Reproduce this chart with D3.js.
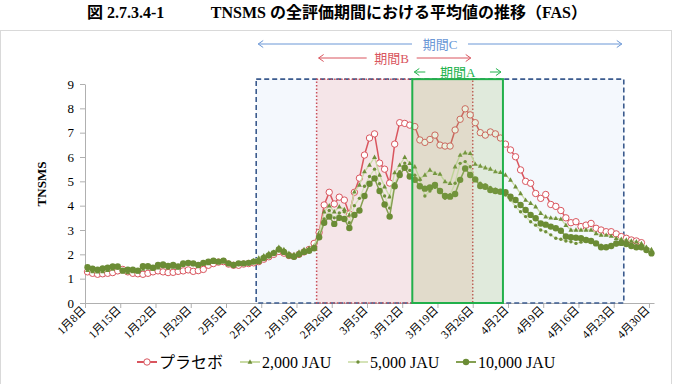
<!DOCTYPE html>
<html><head><meta charset="utf-8">
<script src="https://cdn.jsdelivr.net/npm/d3@7"></script>
<style>
html,body{margin:0;padding:0;background:#fff;}
svg text{font-family:"Liberation Serif","Times New Roman","Noto Sans CJK JP",serif;}
</style></head>
<body><svg id="c" width="674" height="384"></svg>
<script>
// ---- data ----
const startDate = "2011-01-08";
const tickLabels = ["1月8日","1月15日","1月22日","1月29日","2月5日","2月12日","2月19日","2月26日","3月5日","3月12日","3月19日","3月26日","4月2日","4月9日","4月16日","4月23日","4月30日"];
const yTicks = [0,1,2,3,4,5,6,7,8,9];
const seriesNames = ["プラセボ","2,000 JAU","5,000 JAU","10,000 JAU"];
const placebo = [1.28,1.22,1.18,1.2,1.22,1.25,1.32,1.38,1.28,1.22,
1.2,1.18,1.22,1.28,1.32,1.28,1.25,1.26,1.3,1.32,
1.36,1.3,1.33,1.38,1.55,1.62,1.68,1.7,1.6,1.55,
1.55,1.6,1.62,1.65,1.7,1.8,1.9,2.0,2.12,2.05,
1.95,1.92,2.0,2.1,2.2,2.45,2.9,4.03,4.55,4.07,
4.35,4.23,3.66,4.55,5.13,6.08,6.78,6.95,5.75,5.5,
4.93,6.53,7.41,7.38,7.31,7.25,6.7,6.6,6.72,6.9,
6.49,6.45,6.45,7.11,7.55,7.98,7.73,7.41,7.0,6.9,
7.03,6.95,6.78,6.53,6.29,6.01,5.47,5.0,4.92,4.5,
4.3,4.46,4.05,3.97,3.8,3.5,3.3,3.34,3.14,3.2,
3.27,3.07,3.0,2.93,2.93,2.84,2.73,2.66,2.59,2.55,2.48];
const jau2000 = [1.35,1.3,1.28,1.3,1.35,1.4,1.45,1.3,1.25,1.3,
1.28,1.4,1.45,1.4,1.45,1.5,1.45,1.48,1.45,1.55,
1.6,1.58,1.52,1.6,1.62,1.68,1.7,1.72,1.6,1.55,
1.6,1.62,1.65,1.75,1.85,1.95,2.05,2.1,2.3,2.2,
2.05,2.0,2.1,2.2,2.25,2.35,2.9,3.75,4.0,3.75,
3.96,3.85,3.62,4.57,4.85,5.4,5.67,5.99,5.26,4.78,
4.37,5.36,5.67,5.99,5.74,5.6,5.1,5.26,5.47,5.33,
5.3,4.99,4.92,5.6,6.08,6.18,6.15,5.71,5.63,5.56,
5.51,5.4,5.37,5.26,5.06,4.78,4.5,4.23,4.1,3.96,
3.69,3.55,3.5,3.48,3.45,3.2,3.0,3.0,3.0,3.0,
3.0,2.86,2.8,2.79,2.75,2.66,2.62,2.59,2.55,2.52,2.45,2.3,2.2];
const jau5000 = [1.4,1.35,1.3,1.35,1.4,1.45,1.45,1.35,1.3,1.33,
1.3,1.45,1.48,1.42,1.5,1.52,1.48,1.5,1.48,1.58,
1.62,1.6,1.55,1.62,1.66,1.7,1.68,1.72,1.58,1.5,
1.58,1.6,1.62,1.72,1.78,1.9,2.0,2.08,2.25,2.15,
2.0,1.95,2.05,2.15,2.2,2.3,2.8,3.45,3.8,3.5,
3.7,3.75,3.3,4.0,4.3,4.8,5.2,5.5,4.9,4.4,
3.9,4.9,5.4,5.75,5.45,5.25,5.06,4.4,4.6,4.75,
4.55,4.3,4.45,4.92,5.74,5.81,5.6,5.06,4.92,4.85,
4.75,4.68,4.62,4.44,4.23,3.96,3.75,3.55,3.34,3.2,
3.0,2.93,2.8,2.66,2.62,2.55,2.52,2.45,2.5,2.59,
2.52,2.45,2.38,2.29,2.32,2.38,2.45,2.4,2.35,2.32,2.29,2.2,2.11];
const jau10000 = [1.47,1.41,1.37,1.42,1.45,1.5,1.5,1.33,1.37,1.37,
1.33,1.51,1.51,1.45,1.56,1.58,1.52,1.56,1.5,1.63,
1.65,1.63,1.56,1.65,1.7,1.74,1.7,1.74,1.63,1.56,
1.63,1.63,1.65,1.7,1.72,1.85,1.95,2.05,2.2,2.1,
1.95,1.9,2.0,2.1,2.15,2.25,2.7,3.3,3.55,3.25,
3.5,3.45,3.08,3.62,3.8,4.4,4.9,5.12,4.6,4.05,
3.55,4.8,5.26,5.56,5.2,5.06,4.8,4.7,4.75,4.85,
4.6,4.4,4.37,4.48,5.06,5.53,5.26,5.08,4.81,4.78,
4.64,4.6,4.57,4.55,4.37,4.23,4.03,3.82,3.62,3.48,
3.27,3.22,3.14,3.07,2.97,2.73,2.7,2.68,2.66,2.59,
2.55,2.45,2.29,2.29,2.34,2.45,2.47,2.42,2.34,2.29,2.29,2.18,2.04];
const periodNames = ["期間C","期間B","期間A"];
const periodStart = ["2011-02-11","2011-02-23","2011-03-14"];
const periodEnd   = ["2011-04-25","2011-03-26","2011-04-01"]; // exclusive

// ---- layout ----
const svg = d3.select("#c");
const parse = d3.utcParse("%Y-%m-%d");
const d0 = parse(startDate);
const nDays = 113;
const x = d3.scaleUtc().domain([d0, d3.utcDay.offset(d0, nDays)]).range([85, 654]);
const y = d3.scaleLinear().domain([0, 9]).range([303, 84]);
const dayCenter = i => x(d3.utcDay.offset(d0, i)) + (x(d3.utcDay.offset(d0, 1)) - x(d0)) / 2;

// frame
svg.append("rect").attr("x",0.5).attr("y",30.5).attr("width",671).attr("height",360)
  .attr("fill","none").attr("stroke","#d9d9d9");

// title
svg.append("text").attr("x",87).attr("y",18).attr("font-size",16).attr("font-weight","bold")
  .attr("fill","#000").text("図 2.7.3.4-1");
svg.append("text").attr("x",587).attr("y",18).attr("font-size",16).attr("font-weight","bold")
  .attr("text-anchor","end").attr("fill","#000").text("TNSMS の全評価期間における平均値の推移（FAS）");

const pr = periodNames.map((n,i)=>({name:n, x0:x(parse(periodStart[i])), x1:x(parse(periodEnd[i]))}));
const topY = y(9.2), botY = y(0);

// background period boxes (C, B)
svg.append("rect").attr("x",pr[0].x0).attr("y",topY).attr("width",pr[0].x1-pr[0].x0).attr("height",botY-topY)
  .attr("fill","#f4f8fd");
svg.append("rect").attr("x",pr[1].x0).attr("y",topY).attr("width",pr[1].x1-pr[1].x0).attr("height",botY-topY)
  .attr("fill","#f5e5e8");

// axes
const gx = svg.append("g").attr("transform",`translate(0,${botY})`)
  .call(d3.axisBottom(x).tickValues(tickLabels.map((t,i)=>d3.utcDay.offset(d0,i*7))).tickSize(5).tickSizeOuter(0)
  .tickFormat((d,i)=>tickLabels[i]));
gx.select(".domain").attr("stroke","#b0b0b0");
gx.selectAll(".tick line").attr("stroke","#b0b0b0");
gx.selectAll(".tick text").attr("font-size",11.5).attr("fill","#000")
  .attr("text-anchor","end").attr("transform","translate(-2,5) rotate(-45)").attr("dy","0.35em").attr("y",0).attr("x",0);

const gy = svg.append("g").attr("transform","translate(85,0)")
  .call(d3.axisLeft(y).tickValues(yTicks).tickSize(5).tickSizeOuter(0).tickPadding(6));
gy.select(".domain").attr("stroke","#b0b0b0");
gy.selectAll(".tick line").attr("stroke","#b0b0b0");
gy.selectAll(".tick text").attr("font-size",13).attr("fill","#000");

svg.append("text").attr("transform","translate(46,184) rotate(-90)").attr("text-anchor","middle")
  .attr("font-size",13).attr("font-weight","bold").text("TNSMS");

// borders of C and B
svg.append("rect").attr("x",pr[0].x0).attr("y",topY).attr("width",pr[0].x1-pr[0].x0).attr("height",botY-topY)
  .attr("fill","none").attr("stroke","#3b5b8e").attr("stroke-width",1.6).attr("stroke-dasharray","5,3");
svg.append("rect").attr("x",pr[1].x0).attr("y",topY).attr("width",pr[1].x1-pr[1].x0).attr("height",botY-topY)
  .attr("fill","none").attr("stroke","#c8505a").attr("stroke-width",1.5).attr("stroke-dasharray","1.5,2");

// series
const series = [
  {name:seriesNames[0], v:placebo, line:"#d9555e", lw:1.5, mk:"circle", r:3.2, fill:"#fff", stroke:"#d9555e"},
  {name:seriesNames[1], v:jau2000, line:"#c9dba5", lw:1.4, mk:"tri", r:2.2, fill:"#6f8f3a", stroke:"none"},
  {name:seriesNames[2], v:jau5000, line:"#d5e3b8", lw:1.4, mk:"dot", r:1.7, fill:"#6f8f3a", stroke:"none"},
  {name:seriesNames[3], v:jau10000, line:"#85a052", lw:1.5, mk:"circle", r:3.2, fill:"#6b8c35", stroke:"none"}
];
const line = d3.line().x((d,i)=>dayCenter(i)).y(d=>y(d));
const triPath = r => `M0,${-r*1.2}L${r*1.1},${r*0.8}L${-r*1.1},${r*0.8}Z`;
function marker(g, s, cx, cy){
  if(s.mk==="tri") g.append("path").attr("d",triPath(s.r)).attr("transform",`translate(${cx},${cy})`).attr("fill",s.fill);
  else g.append("circle").attr("cx",cx).attr("cy",cy).attr("r",s.r).attr("fill",s.fill)
        .attr("stroke",s.stroke).attr("stroke-width",s.stroke==="none"?0:1);
}
series.forEach(s=>{
  const g = svg.append("g");
  g.append("path").datum(s.v).attr("d",line).attr("fill","none").attr("stroke",s.line).attr("stroke-width",s.lw);
  s.v.forEach((d,i)=>marker(g,s,dayCenter(i),y(d)));
});

// period A overlay
svg.append("rect").attr("x",pr[2].x0).attr("y",topY).attr("width",pr[2].x1-pr[2].x0).attr("height",botY-topY)
  .attr("fill","#8fb45a").attr("fill-opacity",0.2).attr("stroke","#21b04b").attr("stroke-width",2);

// period annotations
const ann = [
  {p:pr[0], y:44, c:"#6a97d6", gap:28},
  {p:pr[1], y:58, c:"#d9555e", gap:25},
  {p:pr[2], y:72, c:"#22b24c", gap:28}
];
ann.forEach((a,i)=>{
  const cx = (a.p.x0+a.p.x1)/2 + (i===1? -3 : 0);
  const g = svg.append("g").attr("stroke",a.c).attr("fill","none").attr("stroke-width",1);
  const l0 = a.p.x0+2, l1 = a.p.x1-2;
  const short = i===2;
  const aL = short ? l0+11 : cx-a.gap, aR = short ? l1-11 : cx+a.gap;
  g.append("line").attr("x1",l0).attr("x2",aL).attr("y1",a.y).attr("y2",a.y);
  g.append("line").attr("x1",aR).attr("x2",l1).attr("y1",a.y).attr("y2",a.y);
  g.append("path").attr("d",`M${l0+5},${a.y-3.5}L${l0},${a.y}L${l0+5},${a.y+3.5}`);
  g.append("path").attr("d",`M${l1-5},${a.y-3.5}L${l1},${a.y}L${l1-5},${a.y+3.5}`);
  svg.append("text").attr("x",cx).attr("y",a.y).attr("dy","0.35em").attr("text-anchor","middle")
    .attr("font-size",13).attr("fill",a.c).text(a.p.name);
});

// legend
const lgX = [137, 240, 348, 456];
series.forEach((s,i)=>{
  const g = svg.append("g");
  const yy = 362;
  g.append("line").attr("x1",lgX[i]).attr("x2",lgX[i]+20).attr("y1",yy).attr("y2",yy).attr("stroke",s.line).attr("stroke-width",2);
  marker(g, s, lgX[i]+10, yy);
  g.append("text").attr("x",lgX[i]+22).attr("y",yy).attr("dy","0.36em").attr("font-size",16).text(s.name);
});
</script></body></html>
